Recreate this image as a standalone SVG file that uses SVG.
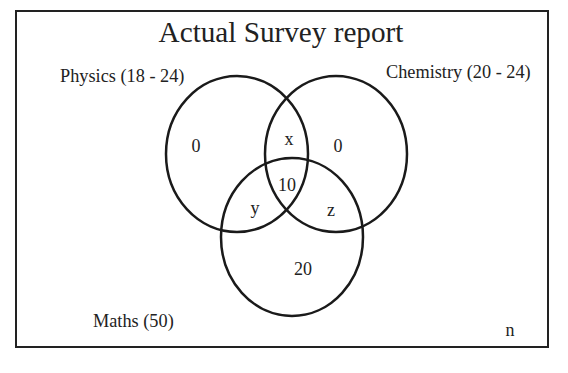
<svg xmlns="http://www.w3.org/2000/svg" width="568" height="373" viewBox="0 0 568 373">
<style>
.t{font-family:"Liberation Serif","Times New Roman",serif;fill:#222;}
.c{fill:none;stroke:#1a1a1a;stroke-width:2.5;}
.l{font-size:18.3px;}
.v{font-size:18px;text-anchor:middle;}
</style>
<rect x="0" y="0" width="568" height="373" fill="#fff"/>
<rect x="16" y="11" width="532" height="336" fill="none" stroke="#222" stroke-width="2"/>
<text class="t" x="281" y="42" font-size="29.2" text-anchor="middle">Actual Survey report</text>
<g id="physics">
<ellipse class="c" cx="237" cy="154" rx="71" ry="78"/>
<text class="t l" x="60" y="82">Physics (18 - 24)</text>
</g>
<g id="chemistry">
<ellipse class="c" cx="336" cy="154" rx="71" ry="78"/>
<text class="t l" x="386" y="78">Chemistry (20 - 24)</text>
</g>
<g id="maths">
<ellipse class="c" cx="292" cy="237" rx="71" ry="79"/>
<text class="t l" x="93" y="327">Maths (50)</text>
</g>
<g id="values">
<text class="t v" x="196" y="152">0</text>
<text class="t v" x="289" y="145">x</text>
<text class="t v" x="338" y="152">0</text>
<text class="t v" x="287" y="191">10</text>
<text class="t v" x="255" y="214">y</text>
<text class="t v" x="331" y="216">z</text>
<text class="t v" x="303" y="275">20</text>
<text class="t v" x="510" y="336">n</text>
</g>
<g id="connectors"/>
</svg>
